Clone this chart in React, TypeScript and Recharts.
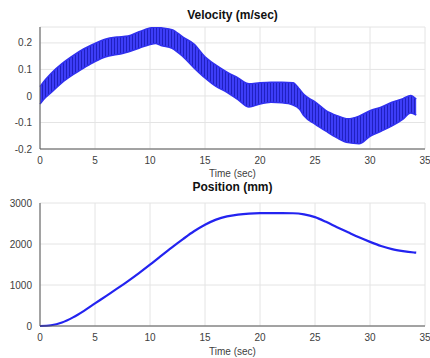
import { Area, CartesianGrid, ComposedChart, Line, XAxis, YAxis } from "recharts";

// velocity band, envelope (m/sec)
const velTime = [0, 0.5, 1, 2, 3, 4, 5, 6, 7, 8, 9, 10, 10.5, 11, 12, 13, 14, 15, 16, 17, 18, 19, 20, 21, 22, 23, 23.6, 24, 25, 26, 27, 28, 29, 30, 31, 32, 33, 33.7, 34.2];
const velHigh = [0.035, 0.062, 0.085, 0.122, 0.152, 0.178, 0.198, 0.215, 0.222, 0.226, 0.242, 0.256, 0.26, 0.257, 0.25, 0.222, 0.196, 0.148, 0.116, 0.09, 0.068, 0.046, 0.05, 0.052, 0.052, 0.05, 0.025, 0.005, -0.022, -0.055, -0.074, -0.086, -0.076, -0.056, -0.042, -0.024, -0.01, 0.002, -0.012];
const velLow = [-0.03, -0.006, 0.012, 0.05, 0.08, 0.106, 0.13, 0.148, 0.156, 0.166, 0.18, 0.194, 0.198, 0.19, 0.18, 0.148, 0.106, 0.068, 0.036, 0.014, -0.014, -0.042, -0.03, -0.024, -0.026, -0.034, -0.05, -0.075, -0.106, -0.133, -0.158, -0.176, -0.18, -0.152, -0.133, -0.113, -0.087, -0.064, -0.072];

// position (mm)
const posTime = [0, 1, 2, 3, 4, 5, 6, 7, 8, 9, 10, 11, 12, 13, 14, 15, 16, 17, 18, 19, 20, 21, 22, 23, 24, 25, 26, 27, 28, 29, 30, 31, 32, 33, 34, 34.2];
const posValue = [0, 18, 85, 210, 370, 550, 730, 910, 1095, 1290, 1495, 1710, 1920, 2120, 2310, 2470, 2595, 2675, 2718, 2742, 2752, 2754, 2754, 2750, 2722, 2655, 2540, 2410, 2285, 2162, 2052, 1952, 1874, 1826, 1793, 1788];

const xTicks = [0, 5, 10, 15, 20, 25, 30, 35];
const velTicks = [-0.2, -0.1, 0, 0.1, 0.2];
const posTicks = [0, 1000, 2000, 3000];

const velData = velTime.map((t, i) => ({ t, band: [velLow[i], velHigh[i]] }));
const posData = posTime.map((t, i) => ({ t, pos: posValue[i] }));

const font = "'Liberation Sans', Arial, sans-serif";
const tickStyle = { fontSize: 10, fill: "#404040", fontFamily: font };
const axisColor = "#555";

const titleStyle: React.CSSProperties = {
    position: "absolute", left: 40, width: 385, textAlign: "center",
    fontFamily: font, fontWeight: "bold", fontSize: 12, lineHeight: "12px", color: "#111",
};
const labelStyle: React.CSSProperties = {
    position: "absolute", left: 40, width: 385, textAlign: "center",
    fontFamily: font, fontSize: 10, lineHeight: "10px", color: "#404040",
};

function Frame() {
    // top and right edges of the box
    return [
        <XAxis key="xt" xAxisId="top" orientation="top" type="number" dataKey="t" domain={[0, 35]} ticks={xTicks}
            tick={false} tickLine={false} height={0} stroke={axisColor} />,
        <YAxis key="yr" yAxisId="right" orientation="right" tick={false} tickLine={false} width={0} stroke={axisColor} />,
    ];
}

export default function App() {
    return (
        <div style={{ position: "absolute", left: 0, top: 0, width: 430, height: 358, background: "#fff" }}>
            <div style={{ ...titleStyle, top: 9 }}>Velocity (m/sec)</div>
            <div style={{ position: "absolute", left: 0, top: 0 }}>
                <ComposedChart width={430} height={179} data={velData} margin={{ top: 27, right: 5, bottom: 0, left: 0 }}>
                    <defs>
                        <pattern id="ripple" width="3" height="4" patternUnits="userSpaceOnUse">
                            <rect width="3" height="4" fill="#3d3df7" />
                            <rect width="1" height="4" fill="#2020c0" />
                        </pattern>
                    </defs>
                    <CartesianGrid stroke="#e4e4e4" />
                    <XAxis type="number" dataKey="t" domain={[0, 35]} ticks={xTicks} tick={tickStyle}
                        tickLine={false} height={30} stroke={axisColor} interval={0} />
                    <YAxis type="number" domain={[-0.2, 0.26]} ticks={velTicks} tick={tickStyle}
                        tickLine={false} width={40} stroke={axisColor} interval={0} allowDataOverflow />
                    {Frame()}
                    <Area dataKey="band" type="monotone" fill="url(#ripple)" fillOpacity={1}
                        stroke="#3030ee" strokeWidth={1.5} isAnimationActive={false} dot={false} activeDot={false} />
                </ComposedChart>
            </div>
            <div style={{ ...labelStyle, top: 169 }}>Time (sec)</div>

            <div style={{ ...titleStyle, top: 181 }}>Position (mm)</div>
            <div style={{ position: "absolute", left: 0, top: 176 }}>
                <ComposedChart width={430} height={182} data={posData} margin={{ top: 27, right: 5, bottom: 0, left: 0 }}>
                    <CartesianGrid stroke="#e4e4e4" />
                    <XAxis type="number" dataKey="t" domain={[0, 35]} ticks={xTicks} tick={tickStyle}
                        tickLine={false} height={32} stroke={axisColor} interval={0} />
                    <YAxis type="number" domain={[0, 3000]} ticks={posTicks} tick={tickStyle}
                        tickLine={false} width={40} stroke={axisColor} interval={0} />
                    {Frame()}
                    <Line dataKey="pos" type="monotone" stroke="#2323f0" strokeWidth={2.2}
                        dot={false} isAnimationActive={false} />
                </ComposedChart>
            </div>
            <div style={{ ...labelStyle, top: 347 }}>Time (sec)</div>
        </div>
    );
}
